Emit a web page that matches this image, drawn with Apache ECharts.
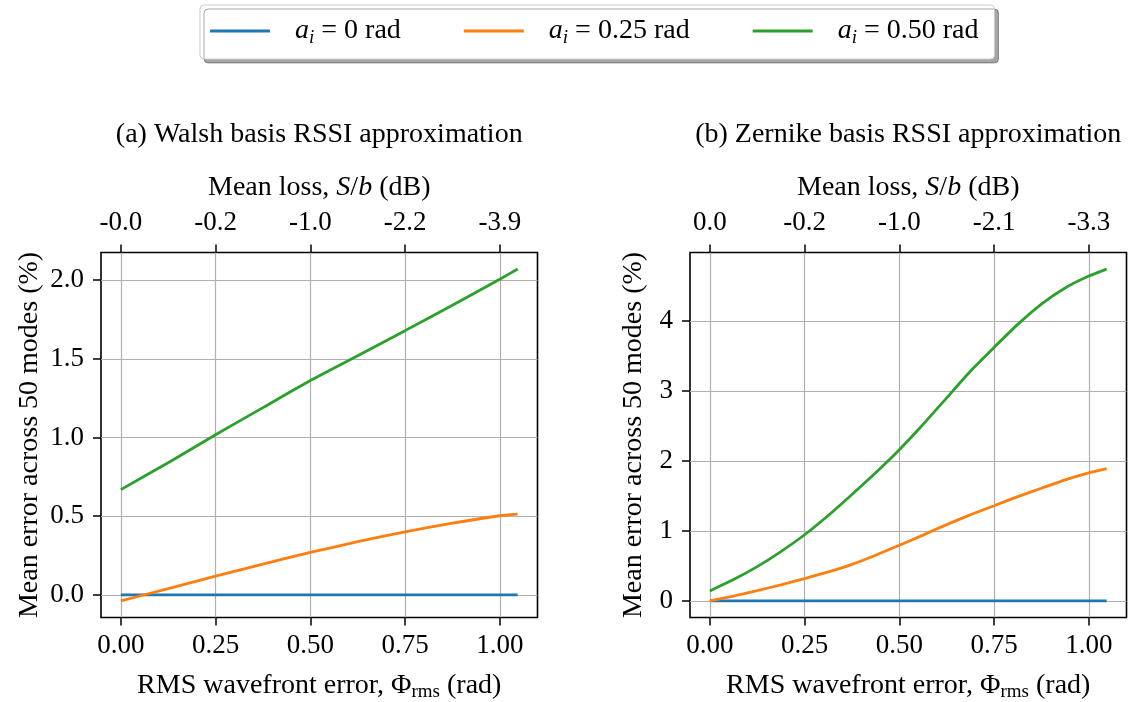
<!DOCTYPE html>
<html>
<head>
<meta charset="utf-8">
<script src="https://cdn.jsdelivr.net/npm/echarts@6/dist/echarts.min.js"></script>
<style>html,body{margin:0;padding:0;background:#fff}#c{width:1129px;height:702px}</style>
</head>
<body>
<div id="c"></div>
<script>
// ---- data ----
const walshX = [0, 0.125, 0.25, 0.375, 0.5, 0.625, 0.75, 0.875, 1.0, 1.0472];
const walshA0 = [0, 0, 0, 0, 0, 0, 0, 0, 0, 0];
const walshA025 = [-0.038, 0.040, 0.120, 0.196, 0.270, 0.338, 0.401, 0.456, 0.503, 0.513];
const walshA050 = [0.669, 0.84, 1.018, 1.19, 1.362, 1.52, 1.679, 1.84, 2.006, 2.07];

const zernX = [0, 0.0625, 0.125, 0.1875, 0.25, 0.3125, 0.375, 0.4375, 0.5, 0.5625, 0.625, 0.6875, 0.75, 0.8125, 0.875, 0.9375, 1.0, 1.0472];
const zernA0 = [0, 0, 0, 0, 0, 0, 0, 0, 0, 0, 0, 0, 0, 0, 0, 0, 0, 0];
const zernA025 = [0, 0.070, 0.147, 0.230, 0.319, 0.414, 0.522, 0.652, 0.795, 0.940, 1.09, 1.23, 1.36, 1.49, 1.61, 1.73, 1.83, 1.89];
const zernA050 = [0.143, 0.305, 0.490, 0.705, 0.945, 1.22, 1.52, 1.83, 2.16, 2.52, 2.90, 3.28, 3.62, 3.95, 4.24, 4.47, 4.64, 4.74];

const seriesNames = ['a_i = 0 rad', 'a_i = 0.25 rad', 'a_i = 0.50 rad'];
const legendValues = ['0', '0.25', '0.50'];
const colors = ['#1f77b4', '#ff7f0e', '#2ca02c'];

const xTicks = [0, 0.25, 0.5, 0.75, 1.0];
const xTickLabels = ['0.00', '0.25', '0.50', '0.75', '1.00'];
const topLabelsWalsh = ['-0.0', '-0.2', '-1.0', '-2.2', '-3.9'];
const topLabelsZern = ['0.0', '-0.2', '-1.0', '-2.1', '-3.3'];
const yTicksWalsh = [0, 0.5, 1.0, 1.5, 2.0];
const yTickLabelsWalsh = ['0.0', '0.5', '1.0', '1.5', '2.0'];
const yTicksZern = [0, 1, 2, 3, 4];
const yTickLabelsZern = ['0', '1', '2', '3', '4'];

const titles = ['(a) Walsh basis RSSI approximation', '(b) Zernike basis RSSI approximation'];

// ---- layout / style ----
const FONT = 'Liberation Serif';
const FS = 27;      // tick labels
const FN = 28;      // names, titles, legend
const grids = [
  {left: 101, top: 252.5, width: 436.5, height: 365},
  {left: 690, top: 252.5, width: 436.5, height: 365}
];

function pad(arrs) {
  let mn = Infinity, mx = -Infinity;
  arrs.forEach(a => a.forEach(v => { mn = Math.min(mn, v); mx = Math.max(mx, v); }));
  const r = mx - mn;
  return [mn - 0.05 * r, mx + 0.05 * r];
}
const xr = pad([walshX]);
const yrW = pad([walshA0, walshA025, walshA050]);
const yrZ = pad([zernA0, zernA025, zernA050]);

function lookup(ticks, labels) {
  return v => {
    for (let i = 0; i < ticks.length; i++) if (Math.abs(ticks[i] - v) < 1e-9) return labels[i];
    return '';
  };
}

const rich = {
  n: {fontFamily: FONT, fontSize: FN, color: '#000', lineHeight: 32},
  i: {fontFamily: FONT, fontSize: FN, fontStyle: 'italic', color: '#000', lineHeight: 32},
  s: {fontFamily: FONT, fontSize: 19, color: '#000', lineHeight: 19, verticalAlign: 'bottom'},
  si: {fontFamily: FONT, fontSize: 19, fontStyle: 'italic', color: '#000', lineHeight: 19, verticalAlign: 'bottom'},
  sp: {width: 20, lineHeight: 32, fontSize: FN}
};

const tickStyle = {color: '#000', width: 1.5};
const xAxes = [], yAxes = [];
[0, 1].forEach(g => {
  xAxes.push({
    type: 'value', gridIndex: g, position: 'bottom', min: xr[0], max: xr[1],
    axisLine: {show: false, onZero: false},
    axisTick: {show: true, length: 8, lineStyle: tickStyle, customValues: xTicks},
    axisLabel: {customValues: xTicks, formatter: lookup(xTicks, xTickLabels), margin: 15,
      color: '#000', fontFamily: FONT, fontSize: FS},
    splitLine: {show: true, lineStyle: {color: '#b0b0b0', width: 1.2}},
    name: '{n|RMS wavefront error, Φ}{s|rms}{n| (rad)}',
    nameLocation: 'middle', nameGap: 52, nameMoveOverlap: false,
    nameTextStyle: {rich: rich}
  });
  xAxes.push({
    type: 'value', gridIndex: g, position: 'top', min: xr[0], max: xr[1],
    axisLine: {show: false, onZero: false},
    axisTick: {show: true, length: 8, lineStyle: tickStyle, customValues: xTicks},
    axisLabel: {customValues: xTicks, formatter: lookup(xTicks, g === 0 ? topLabelsWalsh : topLabelsZern),
      margin: 16, color: '#000', fontFamily: FONT, fontSize: FS},
    splitLine: {show: false},
    name: '{n|Mean loss, }{i|S}{n|/}{i|b}{n| (dB)}',
    nameLocation: 'middle', nameGap: 49, nameMoveOverlap: false,
    nameTextStyle: {rich: rich}
  });
  const yr = g === 0 ? yrW : yrZ;
  const yt = g === 0 ? yTicksWalsh : yTicksZern;
  const yl = g === 0 ? yTickLabelsWalsh : yTickLabelsZern;
  yAxes.push({
    type: 'value', gridIndex: g, min: yr[0], max: yr[1],
    axisLine: {show: false, onZero: false},
    axisTick: {show: true, length: 8, lineStyle: tickStyle, customValues: yt},
    axisLabel: {customValues: yt, formatter: lookup(yt, yl), margin: 17,
      color: '#000', fontFamily: FONT, fontSize: FS},
    splitLine: {show: true, lineStyle: {color: '#b0b0b0', width: 1.2}},
    name: 'Mean error across 50 modes (%)',
    nameLocation: 'middle', nameGap: g === 0 ? 57 : 42, nameMoveOverlap: false,
    nameTextStyle: {fontFamily: FONT, fontSize: FN, color: '#000'}
  });
});

const series = [];
const panelData = [[walshX, [walshA0, walshA025, walshA050]], [zernX, [zernA0, zernA025, zernA050]]];
panelData.forEach((pd, g) => {
  pd[1].forEach((ys, k) => {
    series.push({
      type: 'line', name: seriesNames[k], xAxisIndex: g * 2, yAxisIndex: g,
      data: pd[0].map((x, j) => [x, ys[j]]),
      showSymbol: false, symbol: 'none', smooth: 0.2,
      lineStyle: {color: colors[k], width: 2.8}, itemStyle: {color: colors[k]},
      z: 3 + k
    });
  });
});

const chart = echarts.init(document.getElementById('c'), null, {renderer: 'canvas'});
chart.setOption({
  animation: false,
  backgroundColor: '#fff',
  grid: grids.map(gr => Object.assign({show: true, borderColor: '#000', borderWidth: 1.6, backgroundColor: 'transparent', containLabel: false, outerBoundsMode: 'none'}, gr)),
  xAxis: xAxes,
  yAxis: yAxes,
  legend: {
    left: 200, top: 5, orient: 'horizontal',
    data: seriesNames,
    selectedMode: false,
    icon: 'rect', itemWidth: 60, itemHeight: 3, itemGap: 63,
    padding: [12, 16, 12, 10],
    backgroundColor: '#fff', borderColor: '#cccccc', borderWidth: 1, borderRadius: 4,
    shadowColor: 'rgba(0,0,0,0.35)', shadowBlur: 0, shadowOffsetX: 4, shadowOffsetY: 4,
    formatter: name => '{sp| }{i|a}{si|i}{n| = ' + legendValues[seriesNames.indexOf(name)] + ' rad}',
    textStyle: {rich: rich}
  },
  graphic: titles.map((t, g) => ({
    type: 'text',
    x: grids[g].left + grids[g].width / 2, y: 135,
    style: {text: t, font: FN + 'px "' + FONT + '"', fill: '#000', textAlign: 'center', textVerticalAlign: 'middle'}
  })),
  series: series
});
</script>
</body>
</html>
